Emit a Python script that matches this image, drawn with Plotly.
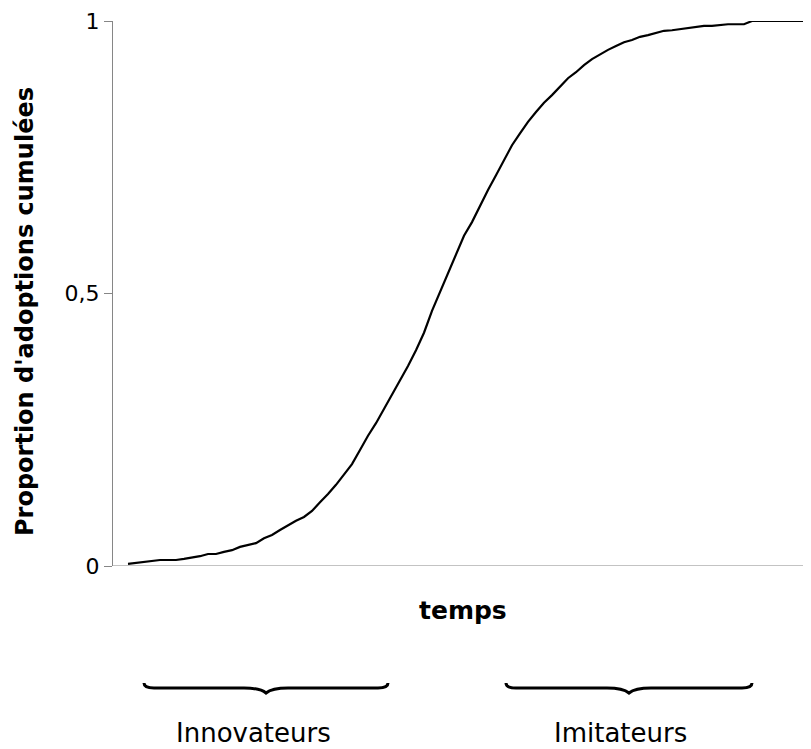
"""Courbe cumulée d'adoption (diffusion de l'innovation)."""

import plotly.graph_objects as go

# ━━━ DATA ━━━━━━━━━━━━━━━━━━━━━━━━━━━━━━━━━━━━━━━━━━━━━━━━━━━

PERIODS = list(range(86))

CUMULATIVE = [
    0.004, 0.006, 0.007, 0.009, 0.011, 0.011, 0.011, 0.013, 0.015, 0.018,
    0.022, 0.022, 0.026, 0.029, 0.035, 0.039, 0.042, 0.051, 0.057, 0.066,
    0.075, 0.083, 0.090, 0.101, 0.117, 0.132, 0.149, 0.167, 0.187, 0.213,
    0.239, 0.262, 0.288, 0.314, 0.341, 0.367, 0.396, 0.428, 0.468, 0.503,
    0.539, 0.574, 0.606, 0.631, 0.662, 0.690, 0.717, 0.745, 0.772, 0.794,
    0.815, 0.833, 0.850, 0.864, 0.879, 0.895, 0.906, 0.919, 0.930, 0.939,
    0.947, 0.954, 0.961, 0.965, 0.971, 0.974, 0.978, 0.982, 0.983, 0.985,
    0.987, 0.989, 0.991, 0.991, 0.993, 0.994, 0.994, 0.994, 1.0, 1.0,
    1.0, 1.0, 1.0, 1.0, 1.0, 1.0,
]

Y_TICKS = [0, 0.5, 1]
Y_TICK_LABELS = ["0", "0,5", "1"]

GROUP_LABELS = ["Innovateurs", "Imitateurs"]

# ━━━ LAYOUT HELPERS ━━━━━━━━━━━━━━━━━━━━━━━━━━━━━━━━━━━━━━━━━

# the page body adds an 8px margin, so the figure is drawn 8px smaller
OFF = 8
W, H = 811 - OFF, 749 - OFF
L, R, T, B = 113 - OFF, 0, 21 - OFF, 749 - 566
FONT = "DejaVu Sans"
AXIS_GREY = "#868686"


def px(x, y):
    """Window pixel position -> paper coords."""
    x, y = x - OFF, y - OFF
    return (x - L) / (W - L - R), (H - B - y) / (H - T - B)


def brace_path(x0, x1, y_end=683, y_line=688, y_tip=693):
    """Horizontal curly brace opening upward, in paper coords."""
    xc = (x0 + x1) / 2
    pts = [
        ("M", [(x0, y_end)]),
        ("Q", [(x0, y_line), (x0 + 10, y_line)]),
        ("L", [(xc - 22, y_line)]),
        ("Q", [(xc - 6, y_line), (xc, y_tip)]),
        ("Q", [(xc + 6, y_line), (xc + 22, y_line)]),
        ("L", [(x1 - 10, y_line)]),
        ("Q", [(x1, y_line), (x1, y_end)]),
    ]
    out = []
    for cmd, coords in pts:
        s = " ".join("{:.5f},{:.5f}".format(*px(a, b)) for a, b in coords)
        out.append(f"{cmd} {s}")
    return " ".join(out)


# ━━━ FIGURE ━━━━━━━━━━━━━━━━━━━━━━━━━━━━━━━━━━━━━━━━━━━━━━━━━

fig = go.Figure(go.Scatter(
    x=PERIODS,
    y=CUMULATIVE,
    mode="lines",
    line=dict(color="#000000", width=2.2),
    hoverinfo="skip",
))

fig.update_layout(
    width=W,
    height=H,
    margin=dict(l=L, r=R, t=T, b=B),
    paper_bgcolor="white",
    plot_bgcolor="white",
    showlegend=False,
    font=dict(family=FONT, color="#000000"),
    xaxis=dict(
        range=[-1.875, 85.375],
        showgrid=False,
        zeroline=False,
        showticklabels=False,
        ticks="",
        showline=False,
    ),
    yaxis=dict(
        range=[0, 1],
        tickvals=Y_TICKS,
        ticktext=Y_TICK_LABELS,
        ticks="outside",
        ticklen=8,
        tickcolor=AXIS_GREY,
        tickfont=dict(size=22, family=FONT, color="#000000"),
        ticklabelstandoff=0,
        showgrid=False,
        zeroline=False,
        showline=True,
        linecolor=AXIS_GREY,
        linewidth=1,
    ),
)

# x axis line at y = 0
fig.add_shape(type="line", xref="paper", yref="y", x0=0, x1=1, y0=0, y1=0,
              line=dict(color=AXIS_GREY, width=1))

# axis titles
tx, ty = px(25, 312)
fig.add_annotation(text="<b>Proportion d'adoptions cumulées</b>", xref="paper", yref="paper",
                   x=tx, y=ty, textangle=-90, showarrow=False,
                   xanchor="center", yanchor="middle", font=dict(size=24, family=FONT))
tx, ty = px(463, 610)
fig.add_annotation(text="<b>temps</b>", xref="paper", yref="paper", x=tx, y=ty,
                   showarrow=False, xanchor="center", yanchor="middle",
                   font=dict(size=25, family=FONT))

# braces + group labels
for (x0, x1), (lx, ly), label in zip(
    [(144, 388), (506, 752)], [(253, 733), (620, 733)], GROUP_LABELS
):
    fig.add_shape(type="path", xref="paper", yref="paper", path=brace_path(x0, x1),
                  line=dict(color="#000000", width=3))
    ax, ay = px(lx, ly)
    fig.add_annotation(text=label, xref="paper", yref="paper", x=ax, y=ay,
                       showarrow=False, xanchor="center", yanchor="middle",
                       font=dict(size=26, family=FONT))

fig.write_html("out.html")
